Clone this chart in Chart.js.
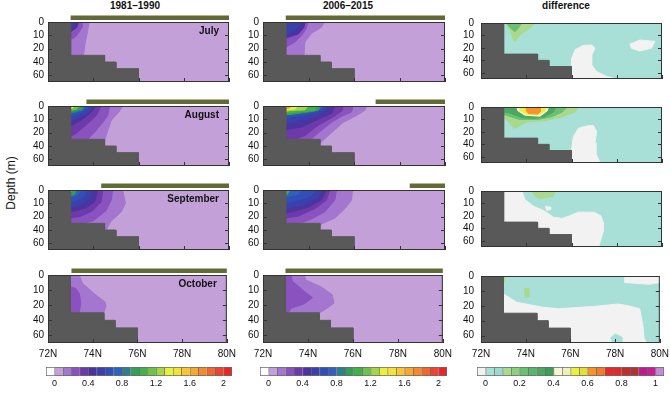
<!DOCTYPE html>
<html>
<head>
<meta charset="utf-8">
<script src="https://cdn.jsdelivr.net/npm/chart.js@4.4.0/dist/chart.umd.min.js"></script>
<style>
  body { margin: 0; width: 670px; height: 396px; overflow: hidden; position: relative; background: #fff;
         font-family: 'Liberation Sans', Arial, sans-serif; color: #111; }
  canvas { position: absolute; }
  .title { position: absolute; top: 0; font-size: 10px; font-weight: bold; transform: translateX(-50%); white-space: nowrap; }
  .ylab { position: absolute; left: 11px; top: 183px; font-size: 12px; white-space: nowrap;
          transform: translate(-50%, -50%) rotate(-90deg); }
</style>
</head>
<body>
<div class="title" style="left:135px">1981–1990</div>
<div class="title" style="left:348px">2006–2015</div>
<div class="title" style="left:566px">difference</div>
<div class="ylab">Depth (m)</div>
<script>
// model depth levels (m) -> the vertical axis is in level index
const depthLevels = [0, 5, 10, 15, 20, 30, 40, 50, 60, 70];
const depthTicks = [0, 10, 20, 40, 60];
const latTicks = [72, 74, 76, 78, 80];
const months = ['July', 'August', 'September', 'October'];

// grey shelf: sea floor depth south of each latitude step
const shelfLat = [73, 74.5, 75, 76];
const shelfDepth = [30, 40, 50, 70];

// olive bars above the panels start here (they run to 80N)
const barStartPast = [73.0, 73.7, 74.35, 73.05];
const barStartNow = [73.0, 76.95, 78.45, 73.0];

// colour scales
const absTicks = [0, 0.4, 0.8, 1.2, 1.6, 2];
const absColors = ['#ffffff', '#c3a0d8', '#a476cf', '#8a52bf', '#6e3aab', '#4b34a0', '#3a40ac', '#2f50b8',
  '#2f62c0', '#2e7f8c', '#34a055', '#44b04a', '#6cc24a', '#a6d44a', '#e8ef3c', '#f2e23a', '#f7c535',
  '#f6a833', '#f4892f', '#ef672f', '#ec4433', '#e8262a'];
const diffTicks = [0, 0.2, 0.4, 0.6, 0.8, 1];
const diffColors = ['#f2f2f2', '#a8e0d8', '#9cdad0', '#a8d98c', '#8ccf7e', '#68c173', '#58b66a', '#4aa862',
  '#3f9d58', '#f6f6d2', '#eef0c0', '#eeee3e', '#e2e236', '#f7922c', '#f07d28', '#ee2626', '#de2b2b',
  '#c02d2d', '#b03232', '#bf1a8e', '#c42292', '#c58ad4'];

// contours: [lower level, [[lat, depth m], ...], 'blob' if not attached to the coast]
const julyPast = [
  [0.1, [[73.82, 0], [73.75, 7], [73.64, 16], [73.57, 30]]],
  [0.2, [[73.5, 0], [73.5, 4], [73.4, 7], [73.2, 11.5], [73, 13]]],
  [0.4, [[73.35, 0], [73.28, 4], [73.03, 7]]],
  [0.5, [[73.2, 0], [73.12, 3], [73, 4]]],
];
const augPast = [
  [0.1, [[75.3, 0], [75.16, 4], [74.8, 10.6], [74.64, 18.4], [74.5, 32], [74.4, 41]]],
  [0.2, [[74.72, 0], [74.64, 7.3], [74.35, 14], [74.06, 19.5], [73.76, 30]]],
  [0.3, [[74.35, 0], [74.13, 7.3], [73.69, 14], [73.25, 21], [73, 25.7]]],
  [0.4, [[74.13, 0], [73.9, 5], [73.47, 10.6], [73, 15]]],
  [0.5, [[73.98, 0], [73.84, 4], [73.4, 8.4], [73, 11.7]]],
  [0.6, [[73.84, 0], [73.69, 2.9], [73.32, 6.2], [73, 8.4]]],
  [0.8, [[73.62, 0], [73.54, 2.9], [73.1, 5.1], [73, 5.5]]],
  [0.9, [[73.54, 0], [73.47, 2.4], [73, 4.2]]],
  [1.1, [[73.4, 0], [73.25, 2.4], [73, 3.3]]],
  [1.3, [[73.17, 0], [73.1, 1.3], [73, 2]]],
];
const sepPast = [
  [0.1, [[75.3, 0], [75.42, 10], [75.23, 16.6], [74.79, 26.6], [74.57, 40], [74.5, 42]]],
  [0.2, [[74.86, 0], [74.79, 7.8], [74.57, 15.5], [73.98, 26.6], [73.4, 31]]],
  [0.3, [[74.42, 0], [74.35, 8.9], [73.98, 15.5], [73.4, 20], [73, 22]]],
  [0.4, [[74.2, 0], [74.06, 8.9], [73.69, 13.3], [73, 16.6]]],
  [0.5, [[73.98, 0], [73.84, 6.7], [73.4, 11], [73, 13.3]]],
  [0.6, [[73.69, 0], [73.62, 4.4], [73.25, 7.8], [73, 8.9]]],
  [0.7, [[73.47, 0], [73.32, 3.3], [73, 5.5]]],
  [0.9, [[73.25, 0], [73.17, 3.3], [73, 4.4]]],
  [1.2, [[73.1, 0], [73, 1.5]]],
];
const octPast = [
  [0.1, [[73.4, 0], [73.54, 5.5], [74.06, 12.2], [74.54, 17.7], [74.6, 21], [74.5, 29], [74.4, 32]]],
  [0.2, [[73, 7.8], [73.25, 8.9], [73.4, 12.2], [73.47, 18.9], [73.4, 29], [73.3, 31]]],
];
const julyNow = [
  [0.1, [[74.7, 0], [74.57, 4], [74.13, 8.5], [73.84, 15], [73.8, 30]]],
  [0.2, [[73.98, 0], [73.9, 5], [73.7, 10], [73.4, 15], [73, 19]]],
  [0.4, [[73.85, 0], [73.8, 4], [73.55, 9], [73, 12]]],
  [0.5, [[73.7, 0], [73.6, 3], [73.35, 7], [73, 9]]],
];
const augNow = [
  [0.1, [[76.55, 0], [76.48, 3.3], [76.04, 7.8], [75.52, 12.3], [75.08, 19], [74.72, 29], [74.5, 36]]],
  [0.2, [[75.96, 0], [75.89, 4.5], [75.45, 7.8], [75, 12.3], [74.57, 18.3], [74.13, 29], [74, 31]]],
  [0.3, [[75.52, 0], [75.5, 3.3], [75, 9], [74.42, 14.5], [73.84, 24.6], [73.4, 30]]],
  [0.4, [[75.16, 0], [75, 5.6], [74.42, 10], [73.7, 15.8], [73, 17.8]]],
  [0.5, [[75, 0], [74.57, 5.6], [73.84, 10], [73, 13.4]]],
  [0.6, [[74.72, 0], [74.57, 3.3], [73.84, 6.7], [73, 8.9]]],
  [0.9, [[74.57, 0], [74.42, 3.3], [73.54, 5.6], [73, 6.7]]],
  [1.0, [[74.35, 0], [74.28, 3.3], [73.4, 4.5], [73, 5.6]]],
  [1.2, [[73.98, 0], [73.84, 2.9], [73.25, 3.3], [73, 4]]],
  [1.3, [[73.54, 0], [73.4, 2.2], [73, 2.9]]],
  [1.6, [[73.25, 0], [73.17, 1.6], [73, 2.2]]],
  [1.8, [[73.07, 0], [73, 1.1]]],
];
const sepNow = [
  [0.1, [[75.94, 0], [75.89, 7.5], [75.6, 14], [75.16, 22], [74.57, 31], [74.5, 35], [74.4, 36]]],
  [0.2, [[75.23, 0], [75.16, 7.5], [74.72, 16.4], [74.13, 23.4], [73.54, 31], [73.4, 32]]],
  [0.3, [[74.94, 0], [74.79, 7.5], [74.28, 14], [73.54, 19.7], [73, 21.9]]],
  [0.4, [[74.8, 0], [74.57, 7.5], [73.98, 13], [73.25, 16.4], [73, 17.5]]],
  [0.5, [[74.57, 0], [74.42, 5.3], [73.84, 10.8], [73, 14]]],
  [0.6, [[74.28, 0], [74.13, 4.2], [73.54, 7.5], [73, 9.7]]],
  [0.7, [[73.7, 0], [73.54, 3.1], [73, 5.3]]],
  [1.0, [[73.17, 0], [73.07, 3.1], [73, 4.2]]],
];
const octNow = [
  [0.1, [[73.84, 0], [73.9, 3.3], [74.57, 7.7], [75.08, 13], [75.16, 18.6], [74.86, 23.9], [74.5, 30.4], [74.4, 32]]],
  [0.2, [[73.25, 0], [73.3, 4], [73.85, 11], [74.2, 15], [73.85, 19], [73.25, 24], [73.1, 31]]],
];
const julyDiff = [
  [-1, [[76, 70], [76, 38], [76.16, 23], [76.52, 18], [76.89, 17.7], [77.04, 20.7], [76.89, 32], [76.89, 47], [77.11, 58], [77.55, 66], [78, 70]], 'blob'],
  [-1, [[78.58, 17], [79.02, 13.7], [79.68, 14.8], [79.53, 20.7], [79.02, 25], [78.65, 20.7]], 'blob'],
  [0.1, [[73.07, 0], [74.39, 0], [74.1, 4.9], [73.73, 9.3], [73.51, 14.8], [73.44, 13.7], [73.29, 6]], 'blob'],
  [0.2, [[73.13, 0], [73.8, 0], [73.65, 4], [73.5, 7.1], [73.3, 4]], 'blob'],
];
const augDiff = [
  [-1, [[76.08, 70], [76, 48.6], [76.08, 28.4], [76.3, 17.2], [76.67, 15.2], [76.96, 14.8], [77.11, 19.7], [77.04, 37.4], [77.08, 55], [77.26, 70]], 'blob'],
  [0.1, [[76.3, 0], [76.16, 4], [75.5, 8.5], [74.76, 11], [74.03, 12], [73.59, 16.4], [73.44, 17], [73.29, 13], [73.07, 9.6], [73, 8.5]]],
  [0.2, [[75.8, 0], [75.6, 4], [75.1, 8], [74.5, 10], [73.7, 10], [73.1, 6.5], [73, 6]]],
  [0.3, [[75.3, 0], [75.2, 4], [74.8, 8], [74.3, 9], [73.8, 8.5], [73.3, 5], [73, 4]]],
  [0.4, [[73.59, 0], [74.98, 0], [74.94, 2.9], [74.61, 7.4], [73.95, 6.7], [73.62, 2.9]], 'blob'],
  [0.5, [[73.7, 0], [74.88, 0], [74.83, 2.9], [74.54, 6.3], [74.03, 5.8], [73.73, 2.9]], 'blob'],
  [0.6, [[74, 0], [74.64, 0], [74.61, 4], [74.5, 5.6], [74.1, 5.2], [74, 2.9]], 'blob'],
];
const sepDiff = [
  [-1, [[73.8, 0], [73.95, 7], [74.3, 12], [74.8, 16], [75.2, 22], [75.6, 24], [75.9, 20], [76.3, 17], [77, 17], [77.3, 20], [77.4, 30], [77.4, 45], [77.2, 70]]],
  [-1, [[74.85, 12.6], [75.05, 12.8], [75.08, 15], [74.9, 15.5]], 'blob'],
  [0.1, [[74.25, 0], [75.27, 0], [75.2, 4.4], [74.6, 6], [74.4, 4.4]], 'blob'],
];
const octDiff = [
  [-1, [[73, 12], [73.6, 17.7], [74.76, 22], [75.5, 24], [77, 21], [78.14, 18.8], [78.58, 20], [79.1, 24], [79.24, 46], [79.3, 64], [79.4, 70]]],
  [0, [[77.8, 63], [78, 58], [78.3, 62], [78.3, 70], [77.9, 70]], 'blob'],
  [-1, [[78.43, 0], [80, 0], [80, 4.4], [79.53, 5.5], [78.43, 4.4]], 'blob'],
  [0.1, [[73.95, 8.5], [74.12, 8.5], [74.14, 14], [73.98, 14]], 'blob'],
  [0.1, [[73, 0], [73.12, 0], [73.05, 3.3], [73, 4]], 'blob'],
];

// ---- layout
const colLeft = [48, 263, 481];
const plotW = [181, 182, 181];
const rowTop = [22, 106, 190, 275];
const plotH = 68;
const axisW = 45;
const landColor = '#595959';

Chart.defaults.font.family = "'Liberation Sans', Arial, sans-serif";
Chart.defaults.font.size = 10;
Chart.defaults.color = '#111';

function lev(d) {
  for (let i = 1; i < depthLevels.length; i++) {
    if (d <= depthLevels[i]) {
      const a = depthLevels[i - 1], b = depthLevels[i];
      return i - 1 + (d - a) / (b - a);
    }
  }
  return depthLevels.length - 1;
}

function shelfShape() {
  const pts = [[72, 0], [shelfLat[0], 0]];
  shelfLat.forEach((lat, i) => {
    pts.push([lat, shelfDepth[i]]);
    if (i + 1 < shelfLat.length) pts.push([shelfLat[i + 1], shelfDepth[i]]);
  });
  pts.push([72, 70]);
  return pts;
}

function area(pts, color) {
  const closed = pts.concat([pts[0]]);
  return {
    data: closed.map(([x, d]) => ({ x, y: lev(d) })),
    fill: 'shape',
    backgroundColor: color,
    borderColor: color,
    borderWidth: 1,
    pointRadius: 0,
    tension: 0,
  };
}

function colorFor(level, colors, step) {
  const i = Math.round(level / step) + 1;
  return colors[Math.max(0, Math.min(colors.length - 1, i))];
}

const panelDeco = {
  id: 'panelDeco',
  afterDatasetsDraw(chart, args, opts) {
    const { ctx, chartArea: a, scales: { x, y } } = chart;
    ctx.save();
    ctx.strokeStyle = '#333';
    ctx.lineWidth = 1;
    ctx.beginPath();
    depthTicks.forEach((d) => {
      const py = Math.round(y.getPixelForValue(lev(d))) + 0.5;
      ctx.moveTo(a.left, py); ctx.lineTo(a.left + 4, py);
      ctx.moveTo(a.right, py); ctx.lineTo(a.right - 4, py);
    });
    latTicks.forEach((l) => {
      const px = Math.round(x.getPixelForValue(l)) + 0.5;
      ctx.moveTo(px, a.bottom); ctx.lineTo(px, a.bottom - 4);
    });
    ctx.stroke();
    ctx.strokeRect(a.left + 0.5, a.top + 0.5, a.width - 1, a.height - 1);
    if (opts.barStart != null) {
      const x0 = x.getPixelForValue(opts.barStart);
      const x1 = x.getPixelForValue(80);
      ctx.fillStyle = '#636a35';
      ctx.fillRect(x0, a.top - 6.5, x1 - x0, 4.5);
    }
    if (opts.month) {
      ctx.font = "bold 10px 'Liberation Sans', Arial, sans-serif";
      ctx.fillStyle = '#111';
      ctx.textAlign = 'right';
      ctx.textBaseline = 'middle';
      ctx.fillText(opts.month, a.right - 10, a.top + 9);
    }
    ctx.restore();
  },
};

function makePanel(r, c, contours, colors, step, barStart, month) {
  const xH = r === 3 ? 20 : 0;
  const canvas = document.createElement('canvas');
  canvas.width = axisW + plotW[c] + 12;
  canvas.height = 12 + plotH + xH + 2;
  canvas.style.left = (colLeft[c] - axisW) + 'px';
  canvas.style.top = (rowTop[r] - 12) + 'px';
  document.body.appendChild(canvas);

  const layers = [area([[72, 0], [80, 0], [80, 70], [72, 70]], colorFor(0, colors, step))];
  contours.forEach(([level, pts, kind]) => {
    let shape = pts;
    if (kind !== 'blob') shape = [[72, 0]].concat(pts, [[72, pts[pts.length - 1][1]]]);
    layers.push(area(shape, colorFor(level, colors, step)));
  });
  layers.push(area(shelfShape(), landColor));

  new Chart(canvas, {
    type: 'line',
    data: { datasets: layers.reverse() },
    options: {
      responsive: false,
      animation: false,
      events: [],
      layout: { padding: { left: 0, right: 12, top: 12, bottom: 2 } },
      plugins: {
        legend: { display: false },
        tooltip: { enabled: false },
        panelDeco: { barStart, month },
      },
      scales: {
        x: {
          type: 'linear',
          min: 72,
          max: 80,
          afterBuildTicks: (s) => { s.ticks = latTicks.map((v) => ({ value: v })); },
          afterFit: (s) => { s.height = xH; },
          grid: { display: false, drawTicks: false },
          border: { display: false },
          ticks: { display: r === 3, padding: 5, callback: (v) => v + 'N' },
        },
        y: {
          type: 'linear',
          reverse: true,
          min: 0,
          max: lev(70),
          afterBuildTicks: (s) => { s.ticks = depthTicks.map((d) => ({ value: lev(d) })); },
          afterFit: (s) => { s.width = axisW; },
          grid: { display: false, drawTicks: false },
          border: { display: false },
          ticks: { padding: c === 2 ? 7 : 4, callback: (v, i) => String(depthTicks[i]) },
        },
      },
    },
    plugins: [panelDeco],
  });
}

function makeColorbar(left, width, colors, step, ticks) {
  const canvas = document.createElement('canvas');
  canvas.width = width;
  canvas.height = 26;
  canvas.style.left = left + 'px';
  canvas.style.top = '367px';
  document.body.appendChild(canvas);
  const n = colors.length;
  new Chart(canvas, {
    type: 'bar',
    data: {
      labels: [''],
      datasets: colors.map((col, i) => ({
        data: [[(i - 1) * step, i * step]],
        backgroundColor: col,
        borderColor: '#6a6a6a',
        borderWidth: { left: 1, top: 1, bottom: 1, right: i === n - 1 ? 1 : 0 },
        borderSkipped: false,
        barPercentage: 1,
        categoryPercentage: 1,
      })),
    },
    options: {
      indexAxis: 'y',
      responsive: false,
      animation: false,
      events: [],
      layout: { padding: 0 },
      plugins: { legend: { display: false }, tooltip: { enabled: false } },
      scales: {
        x: {
          type: 'linear',
          stacked: false,
          min: -step,
          max: (n - 1) * step,
          afterBuildTicks: (s) => { s.ticks = ticks.map((v) => ({ value: v })); },
          afterFit: (s) => { s.height = 17; },
          grid: { display: false, drawTicks: false },
          border: { display: false },
          ticks: { padding: 2, font: { size: 9 }, callback: (v) => String(v) },
        },
        y: { display: false, stacked: true },
      },
    },
  });
}

const pastData = [julyPast, augPast, sepPast, octPast];
const nowData = [julyNow, augNow, sepNow, octNow];
const diffData = [julyDiff, augDiff, sepDiff, octDiff];

for (let r = 0; r < 4; r++) {
  makePanel(r, 0, pastData[r], absColors, 0.1, barStartPast[r], months[r]);
  makePanel(r, 1, nowData[r], absColors, 0.1, barStartNow[r], null);
  makePanel(r, 2, diffData[r], diffColors, 0.05, null, null);
}
makeColorbar(46, 186, absColors, 0.1, absTicks);
makeColorbar(260, 187, absColors, 0.1, absTicks);
makeColorbar(477, 187, diffColors, 0.05, diffTicks);
</script>
</body>
</html>
